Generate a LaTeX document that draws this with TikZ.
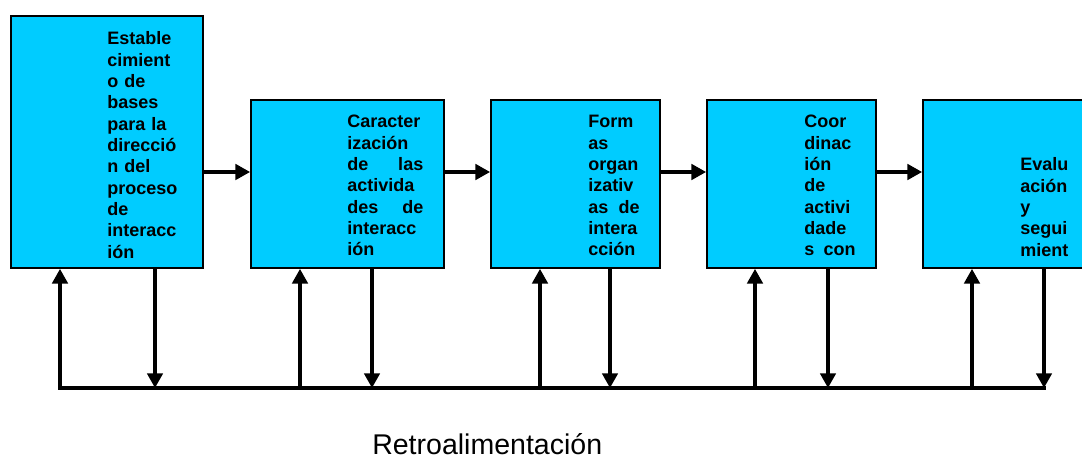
\documentclass[tikz,border=0pt]{standalone}
\usepackage{fontspec}
\setmainfont{Liberation Sans}
\usepackage{tikz}
\usetikzlibrary{arrows.meta}

\definecolor{stagefill}{HTML}{00CCFF}
\tikzset{
  stage/.style={draw=black, line width=1.3pt, fill=stagefill, inner sep=0pt, minimum height=126pt},
  stagetext/.style={anchor=base west, inner sep=0pt, align=left, font=\fontsize{13.5}{16}\selectfont\bfseries},
  flow/.style={line width=2.6pt, -{Triangle[length=11pt,width=11.5pt]}},
  bus/.style={line width=2.3pt, line cap=rect}
}

\begin{document}
\begin{tikzpicture}[x=0.75pt, y=-0.75pt]
\useasboundingbox (0,0) rectangle (1082,459);
\coordinate (lvl) at (0,172);
\coordinate (u1) at (60,388);
\coordinate (d1) at (155,388);
\coordinate (u2) at (300,388);
\coordinate (d2) at (372,388);
\coordinate (u3) at (540,388);
\coordinate (d3) at (610,388);
\coordinate (u4) at (755,388);
\coordinate (d4) at (828,388);
\coordinate (u5) at (972,388);
\coordinate (d5) at (1044,388);
% draws stages
\node[stage, minimum width=144pt, minimum height=189pt] (s1) at (107,142) {};
\node[stage, minimum width=144.75pt] (s2) at (347.5,184) {};
\node[stage, minimum width=126.75pt] (s3) at (575.5,184) {};
\node[stage, minimum width=126.75pt] (s4) at (791.5,184) {};
\node[stage, minimum width=144.75pt] (s5) at (1019.5,184) {};
% labels stages
\node[stagetext, text width=56pt] (l1) at (107,45) {Estable\\cimient\\o de\\bases\\para la\\direcció\\n del\\proceso\\de\\interacc\\ión};
\node[stagetext, text width=57pt] (l2) at (347,128) {Caracter\\ización\\de\hfill las\\activida\\des\hfill de\\interacc\\ión};
\node[stagetext, text width=38.5pt] (l3) at (588,128) {Form\\as\\organ\\izativ\\as\hfill de\\intera\\cción};
\node[stagetext, text width=38.5pt] (l4) at (804,128) {Coor\\dinac\\ión\\de\\activi\\dade\\s\hfill con};
\node[stagetext, text width=37.5pt] (l5) at (1020,171) {Evalu\\ación\\y\\segui\\mient};
\node[anchor=base west, inner sep=0pt, font=\fontsize{21.4}{24}\selectfont] (fb) at (372,455) {Retroalimentación};
% draws forward arrows
\draw[flow] (s1.east |- lvl) -- (s2.west |- lvl);
\draw[flow] (s2.east |- lvl) -- (s3.west |- lvl);
\draw[flow] (s3.east |- lvl) -- (s4.west |- lvl);
\draw[flow] (s4.east |- lvl) -- (s5.west |- lvl);
% draws feedback loop
\draw[bus] (u1) -- (d5);
\draw[flow] (u1) -- (u1 |- s1.south);
\draw[flow] (d1 |- s1.south) -- (d1);
\draw[flow] (u2) -- (u2 |- s2.south);
\draw[flow] (d2 |- s2.south) -- (d2);
\draw[flow] (u3) -- (u3 |- s3.south);
\draw[flow] (d3 |- s3.south) -- (d3);
\draw[flow] (u4) -- (u4 |- s4.south);
\draw[flow] (d4 |- s4.south) -- (d4);
\draw[flow] (u5) -- (u5 |- s5.south);
\draw[flow] (d5 |- s5.south) -- (d5);
\end{tikzpicture}
\end{document}
